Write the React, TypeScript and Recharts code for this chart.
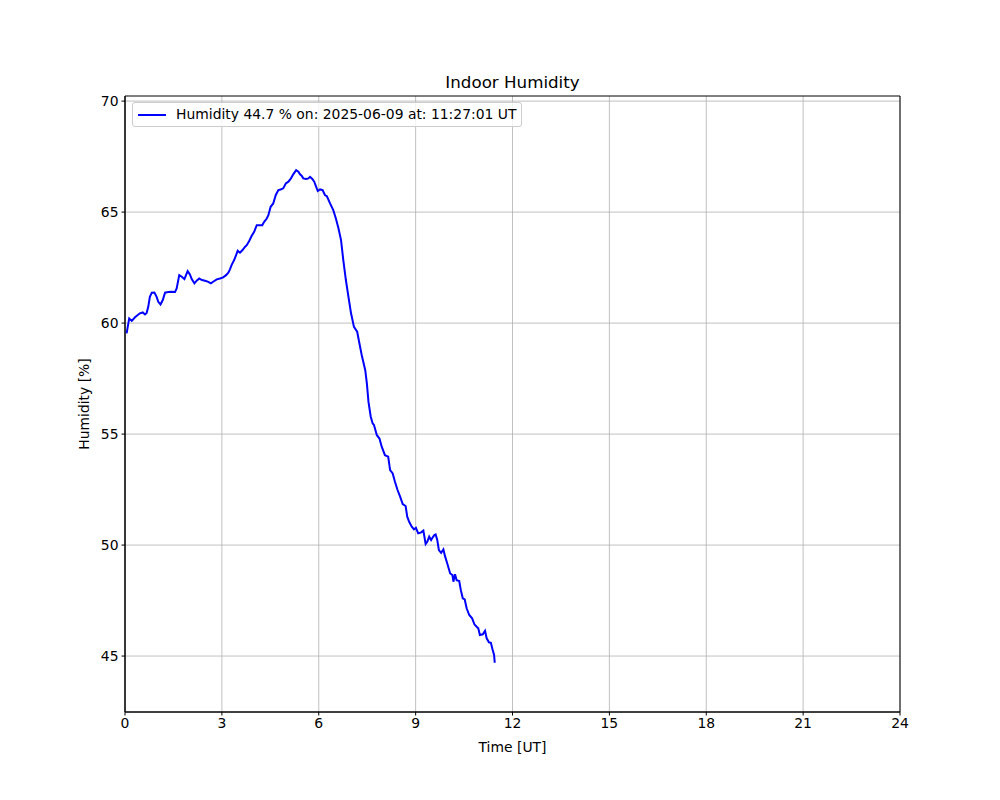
import React from "react";
import {
  LineChart,
  Line,
  XAxis,
  YAxis,
  CartesianGrid,
  ReferenceArea,
} from "recharts";

const times: number[] = [
  0.05, 0.13, 0.21, 0.31, 0.46, 0.55, 0.62, 0.67, 0.72, 0.77, 0.83, 0.91, 0.98,
  1.03, 1.1, 1.17, 1.24, 1.34, 1.45, 1.55, 1.6, 1.68, 1.76, 1.84, 1.89, 1.94,
  2.01, 2.07, 2.15, 2.22, 2.3, 2.38, 2.48, 2.58, 2.66, 2.73, 2.84, 2.94, 3.04,
  3.13, 3.2, 3.25, 3.3, 3.38, 3.44, 3.49, 3.56, 3.64, 3.72, 3.77, 3.85, 3.92,
  4.0, 4.08, 4.16, 4.25, 4.31, 4.39, 4.44, 4.51, 4.59, 4.67, 4.75, 4.82, 4.9,
  4.98, 5.06, 5.14, 5.21, 5.3, 5.37, 5.42, 5.47, 5.52, 5.61, 5.68, 5.73, 5.8,
  5.86, 5.92, 5.97, 6.04, 6.12, 6.19, 6.25, 6.35, 6.45, 6.53, 6.61, 6.69, 6.76,
  6.84, 6.92, 7.0, 7.09, 7.19, 7.26, 7.33, 7.44, 7.49, 7.54, 7.61, 7.67, 7.71,
  7.8, 7.88, 7.95, 8.05, 8.15, 8.21, 8.29, 8.36, 8.44, 8.52, 8.6, 8.69, 8.74,
  8.8, 8.88, 8.95, 9.01, 9.08, 9.16, 9.24, 9.31, 9.36, 9.42, 9.48, 9.53, 9.58,
  9.62, 9.67, 9.72, 9.79, 9.86, 9.91, 9.98, 10.07, 10.14, 10.17, 10.22, 10.27,
  10.35, 10.4, 10.46, 10.52, 10.58, 10.66, 10.75, 10.82, 10.89, 10.94, 10.99,
  11.08, 11.15, 11.2, 11.27, 11.33, 11.38, 11.43, 11.45,
];

const humidity: number[] = [
  59.54, 60.21, 60.1, 60.26, 60.44, 60.48, 60.39, 60.46, 60.73, 61.18, 61.37,
  61.38, 61.18, 60.96, 60.84, 61.04, 61.37, 61.4, 61.41, 61.4, 61.56, 62.16,
  62.09, 61.98, 62.16, 62.34, 62.19, 61.97, 61.79, 61.91, 62.01, 61.94, 61.91,
  61.86, 61.79, 61.86, 61.97, 62.01, 62.06, 62.16, 62.27, 62.42, 62.61, 62.84,
  63.06, 63.26, 63.17, 63.29, 63.44, 63.51, 63.71, 63.92, 64.11, 64.41, 64.41,
  64.41, 64.56, 64.71, 64.86, 65.24, 65.39, 65.77, 65.99, 66.02, 66.07, 66.29,
  66.37, 66.52, 66.7, 66.89, 66.82, 66.7, 66.64, 66.52, 66.49, 66.52, 66.59,
  66.49, 66.37, 66.14, 65.95, 66.02, 65.99, 65.77, 65.72, 65.39, 65.09, 64.71,
  64.27, 63.74, 62.84, 61.94, 61.18, 60.44, 59.83, 59.61, 59.08, 58.56, 57.88,
  57.28, 56.45, 55.78, 55.48, 55.41, 54.95, 54.8, 54.43, 54.05, 53.98, 53.38,
  53.23, 52.85, 52.48, 52.18, 51.85, 51.76, 51.28, 51.05, 50.83, 50.71, 50.78,
  50.53, 50.56, 50.65, 50.05, 50.15, 50.38, 50.23, 50.35, 50.45, 50.48, 50.23,
  49.77, 49.65, 49.8, 49.5, 49.17, 48.72, 48.65, 48.35, 48.69, 48.42, 48.38,
  47.97, 47.6, 47.55, 47.15, 46.85, 46.7, 46.43, 46.32, 46.25, 45.95, 45.98,
  46.14, 45.8, 45.62, 45.6, 45.31, 45.05, 44.7,
];

const xTicks: number[] = [0, 3, 6, 9, 12, 15, 18, 21, 24];
const yTicks: number[] = [45, 50, 55, 60, 65, 70];
const yDomain: [number, number] = [42.48, 70.23];
const xDomain: [number, number] = [0, 24];

const title = "Indoor Humidity";
const xLabel = "Time [UT]";
const yLabel = "Humidity [%]";
const legendLabel = "Humidity 44.7 % on: 2025-06-09 at: 11:27:01 UT";

const data = times.map((t, i) => ({ t, h: humidity[i] }));

const FONT = "'DejaVu Sans', sans-serif";

export default function App() {
  return (
    <div
      style={{
        position: "absolute",
        left: 0,
        top: 0,
        width: 1000,
        height: 800,
        background: "#fff",
      }}
    >
      <LineChart
        width={1000}
        height={800}
        data={data}
        margin={{ top: 96, right: 100, bottom: 58, left: 65 }}
      >
        <CartesianGrid
          stroke="#b0b0b0"
          strokeWidth={0.8}
          horizontalValues={yTicks}
          verticalValues={xTicks}
        />
        <XAxis
          dataKey="t"
          type="number"
          domain={xDomain}
          ticks={xTicks}
          allowDataOverflow
          height={30}
          tickSize={3.5}
          tickMargin={3}
          axisLine={{ stroke: "#000", strokeWidth: 1 }}
          tickLine={{ stroke: "#000", strokeWidth: 1 }}
          tick={{ fill: "#000", fontSize: 13.9, fontFamily: FONT }}
          interval={0}
        />
        <YAxis
          type="number"
          domain={yDomain}
          ticks={yTicks}
          allowDataOverflow
          width={60}
          tickSize={3.5}
          tickMargin={3}
          axisLine={{ stroke: "#000", strokeWidth: 1 }}
          tickLine={{ stroke: "#000", strokeWidth: 1 }}
          tick={{ fill: "#000", fontSize: 13.9, fontFamily: FONT }}
          interval={0}
        />
        <ReferenceArea
          x1={xDomain[0]}
          x2={xDomain[1]}
          y1={yDomain[0]}
          y2={yDomain[1]}
          fill="none"
          stroke="#000"
          strokeWidth={1}
          ifOverflow="extendDomain"
        />
        <Line
          type="linear"
          dataKey="h"
          stroke="#0000ff"
          strokeWidth={2}
          dot={false}
          isAnimationActive={false}
          name={legendLabel}
        />
      </LineChart>
      <div
        style={{
          position: "absolute",
          left: 132,
          top: 102,
          display: "flex",
          alignItems: "center",
          border: "1px solid #cccccc",
          borderRadius: 3,
          background: "rgba(255,255,255,0.8)",
          padding: "3px 5px 3px 5px",
          fontFamily: FONT,
          fontSize: 13.9,
          lineHeight: "17px",
          color: "#000",
          whiteSpace: "nowrap",
        }}
      >
        <svg width={28} height={10} style={{ marginRight: 10 }}>
          <line x1={0} y1={5} x2={28} y2={5} stroke="#0000ff" strokeWidth={2} />
        </svg>
        <span>{legendLabel}</span>
      </div>
      <div
        style={{
          position: "absolute",
          left: 0,
          width: 1025,
          top: 72,
          textAlign: "center",
          fontFamily: FONT,
          fontSize: 16.7,
          lineHeight: "20px",
          color: "#000",
        }}
      >
        {title}
      </div>
      <div
        style={{
          position: "absolute",
          left: 0,
          width: 1025,
          top: 738,
          textAlign: "center",
          fontFamily: FONT,
          fontSize: 13.9,
          lineHeight: "18px",
          color: "#000",
        }}
      >
        {xLabel}
      </div>
      <div
        style={{
          position: "absolute",
          left: 84,
          top: 404,
          transform: "translate(-50%, -50%) rotate(-90deg)",
          fontFamily: FONT,
          fontSize: 13.9,
          lineHeight: "18px",
          color: "#000",
          whiteSpace: "nowrap",
        }}
      >
        {yLabel}
      </div>
    </div>
  );
}
